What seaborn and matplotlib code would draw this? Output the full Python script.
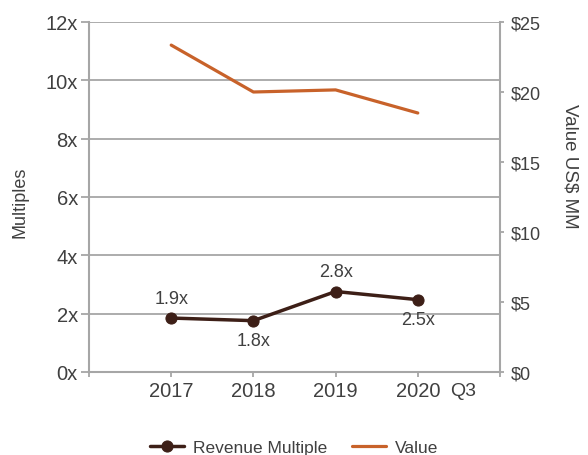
import matplotlib
matplotlib.use("Agg")
import matplotlib.pyplot as plt
import pandas as pd
import seaborn as sns

years = ["2017", "2018", "2019", "2020"]
revenue_multiple = [1.85, 1.76, 2.76, 2.48]
multiple_labels = ["1.9x", "1.8x", "2.8x", "2.5x"]
value_mm = [23.35, 20.0, 20.15, 18.5]

left_ticks = [0, 2, 4, 6, 8, 10, 12]
right_ticks = [0, 5, 10, 15, 20, 25]

GRID = "#a6a6a6"
TEXT = "#404040"
BROWN = "#3d1f17"
ORANGE = "#c8622a"

df = pd.DataFrame({"year": years, "multiple": revenue_multiple, "value": value_mm})

sns.set_theme(style="white")
plt.rcParams["font.family"] = ["Liberation Sans", "DejaVu Sans"]

fig = plt.figure(figsize=(5.88, 4.56), dpi=100)
ax = fig.add_axes([89 / 588, 83 / 456, 411 / 588, 350 / 456])
ax2 = ax.twinx()

sns.lineplot(data=df, x="year", y="multiple", ax=ax, color=BROWN, linewidth=2.5,
             marker="o", markersize=8, markeredgecolor=BROWN, label="Revenue Multiple",
             legend=False, zorder=5)
sns.lineplot(data=df, x="year", y="value", ax=ax2, color=ORANGE, linewidth=2.3,
             label="Value", legend=False)

ax.set_ylim(0, 12)
ax2.set_ylim(0, 25)
ax.set_xlim(-1, 4)
ax.set_yticks(left_ticks)
ax.set_yticklabels([f"{t}x" for t in left_ticks])
ax2.set_yticks(right_ticks)
ax2.set_yticklabels([f"${t}" for t in right_ticks])
ax.set_xticks(range(-1, 5))
ax.set_xticklabels([""] + years + [""])

ax.yaxis.grid(True, color=GRID, linewidth=1.3)
ax.set_axisbelow(True)
for a in (ax, ax2):
    a.spines["top"].set_visible(False)
    for s in ("left", "right", "bottom"):
        a.spines[s].set_color(GRID)
        a.spines[s].set_linewidth(1.5)
ax.spines["right"].set_visible(False)
ax2.spines["left"].set_visible(False)
ax2.spines["bottom"].set_visible(False)

ax.tick_params(axis="y", length=6, width=1.3, color=GRID, labelsize=14.5, labelcolor=TEXT, pad=2, left=True)
ax.tick_params(axis="x", length=3.6, width=1.3, color=GRID, labelsize=14.5, labelcolor=TEXT, pad=3, bottom=True)
ax2.tick_params(axis="y", length=3, width=1.3, color=GRID, labelsize=13, labelcolor=TEXT, pad=4.5, right=True)

ax.set_xlabel("")
ax.set_ylabel("Multiples", fontsize=13, color=TEXT, va="center")
ax.yaxis.set_label_coords(-0.168, 0.489)
ax2.set_ylabel("Value US$ MM", fontsize=13.5, color=TEXT, rotation=270, va="center")
ax2.yaxis.set_label_coords(1.17, 0.59)

offsets = [20, -20, 20, -20]
for i, (yv, lab) in enumerate(zip(revenue_multiple, multiple_labels)):
    ax.annotate(lab, xy=(i, yv), xytext=(0, offsets[i] * 0.72), textcoords="offset points",
                ha="center", va="center", fontsize=13, color=TEXT)

h1, l1 = ax.get_legend_handles_labels()
h2, l2 = ax2.get_legend_handles_labels()
fig.legend(h1 + h2, l1 + l2, loc="center", bbox_to_anchor=(0.5, 8 / 456), ncol=2,
           frameon=False, fontsize=12.5, labelcolor=TEXT, handlelength=2.0,
           handletextpad=0.5, columnspacing=1.4)

# "Q3" sits just to the right of the 2020 tick label
fig.canvas.draw()
lab2020 = ax.get_xticklabels()[4]
bb = lab2020.get_window_extent()
fig.text((bb.x1 + 10) / fig.bbox.width, (bb.y0 + bb.y1) / 2 / fig.bbox.height, "Q3",
         fontsize=14, color=TEXT, ha="left", va="center")

fig.savefig("out.png", dpi=100)
